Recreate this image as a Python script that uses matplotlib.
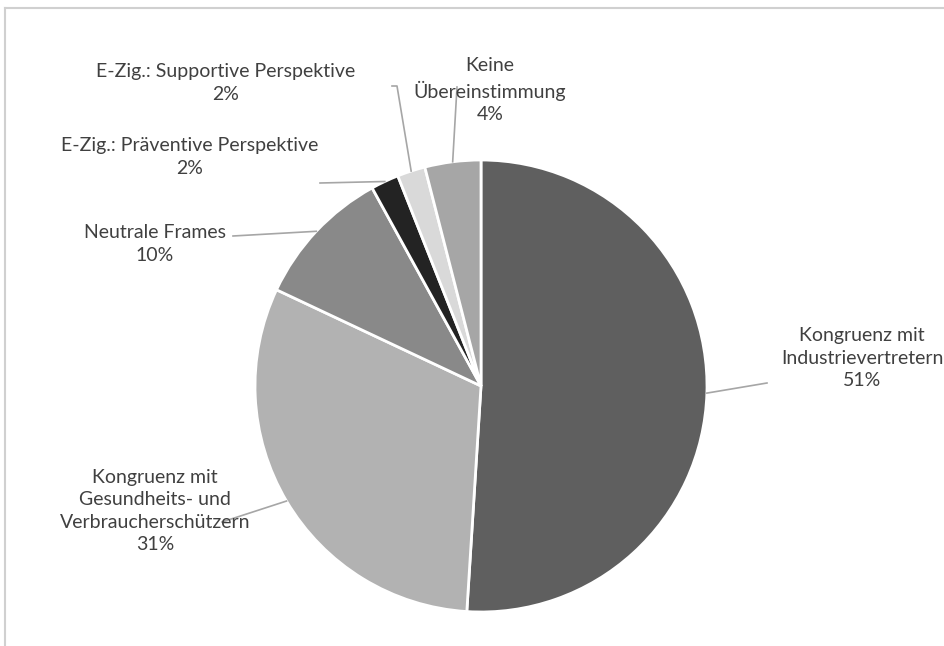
import numpy as np
import matplotlib
matplotlib.use('Agg')
import matplotlib.pyplot as plt
from matplotlib.lines import Line2D

# Frame shares, clockwise from 12 o'clock
labels = ["Kongruenz mit\nIndustrievertretern",
          "Kongruenz mit\nGesundheits- und\nVerbraucherschützern",
          "Neutrale Frames",
          "E-Zig.: Präventive Perspektive",
          "E-Zig.: Supportive Perspektive",
          "Keine\nÜbereinstimmung"]
shares = [51, 31, 10, 2, 2, 4]
colors = ["#5f5f5f", "#b2b2b2", "#898989", "#232323", "#d9d9d9", "#a6a6a6"]

# label anchors (pixels, y measured from the bottom) and leader elbows
W, H = 944, 646
text_pos = [(862, H - 358), (155, H - 511), (155, H - 244),
            (190, H - 157), (226, H - 83), (490, H - 90)]
leader_end = [[(767, H - 383)],
              [(222, H - 522)],
              [(233, H - 236)],
              [(320, H - 183)],
              [(397, H - 86), (392, H - 86)],
              [(457, H - 87)]]

plt.rcParams['font.family'] = ['Lato', 'DejaVu Sans']

fig = plt.figure(figsize=(W / 100, H / 100), dpi=100)
ax = fig.add_axes([0, 0, 1, 1])

cx, cy, r = 481, H - 386, 226
wedges, _ = ax.pie(shares, colors=colors, startangle=90, counterclock=False,
                   center=(cx, cy), radius=r, frame=True,
                   wedgeprops=dict(edgecolor='white', linewidth=2))
ax.set_xlim(0, W)
ax.set_ylim(0, H)
ax.set_aspect('equal')
ax.axis('off')

for w, lab, val, (tx, ty), ends in zip(wedges, labels, shares, text_pos, leader_end):
    mid = np.deg2rad((w.theta1 + w.theta2) / 2)
    px, py = cx + r * np.cos(mid), cy + r * np.sin(mid)
    xs = [px] + [e[0] for e in ends]
    ys = [py] + [e[1] for e in ends]
    ax.plot(xs, ys, color='#a6a6a6', linewidth=1.2, zorder=1)
    ax.text(tx, ty, f"{lab}\n{val}%", ha='center', va='center',
            fontsize=14.0, color='#404040', linespacing=1.36)

# chart area border (top and left edges visible)
fig.add_artist(Line2D([5 / W, 1], [1 - 8 / H, 1 - 8 / H], color='#d0d0d0', linewidth=1.5))
fig.add_artist(Line2D([5 / W, 5 / W], [0, 1 - 8 / H], color='#d0d0d0', linewidth=1.5))

fig.savefig("out.png", dpi=100)
